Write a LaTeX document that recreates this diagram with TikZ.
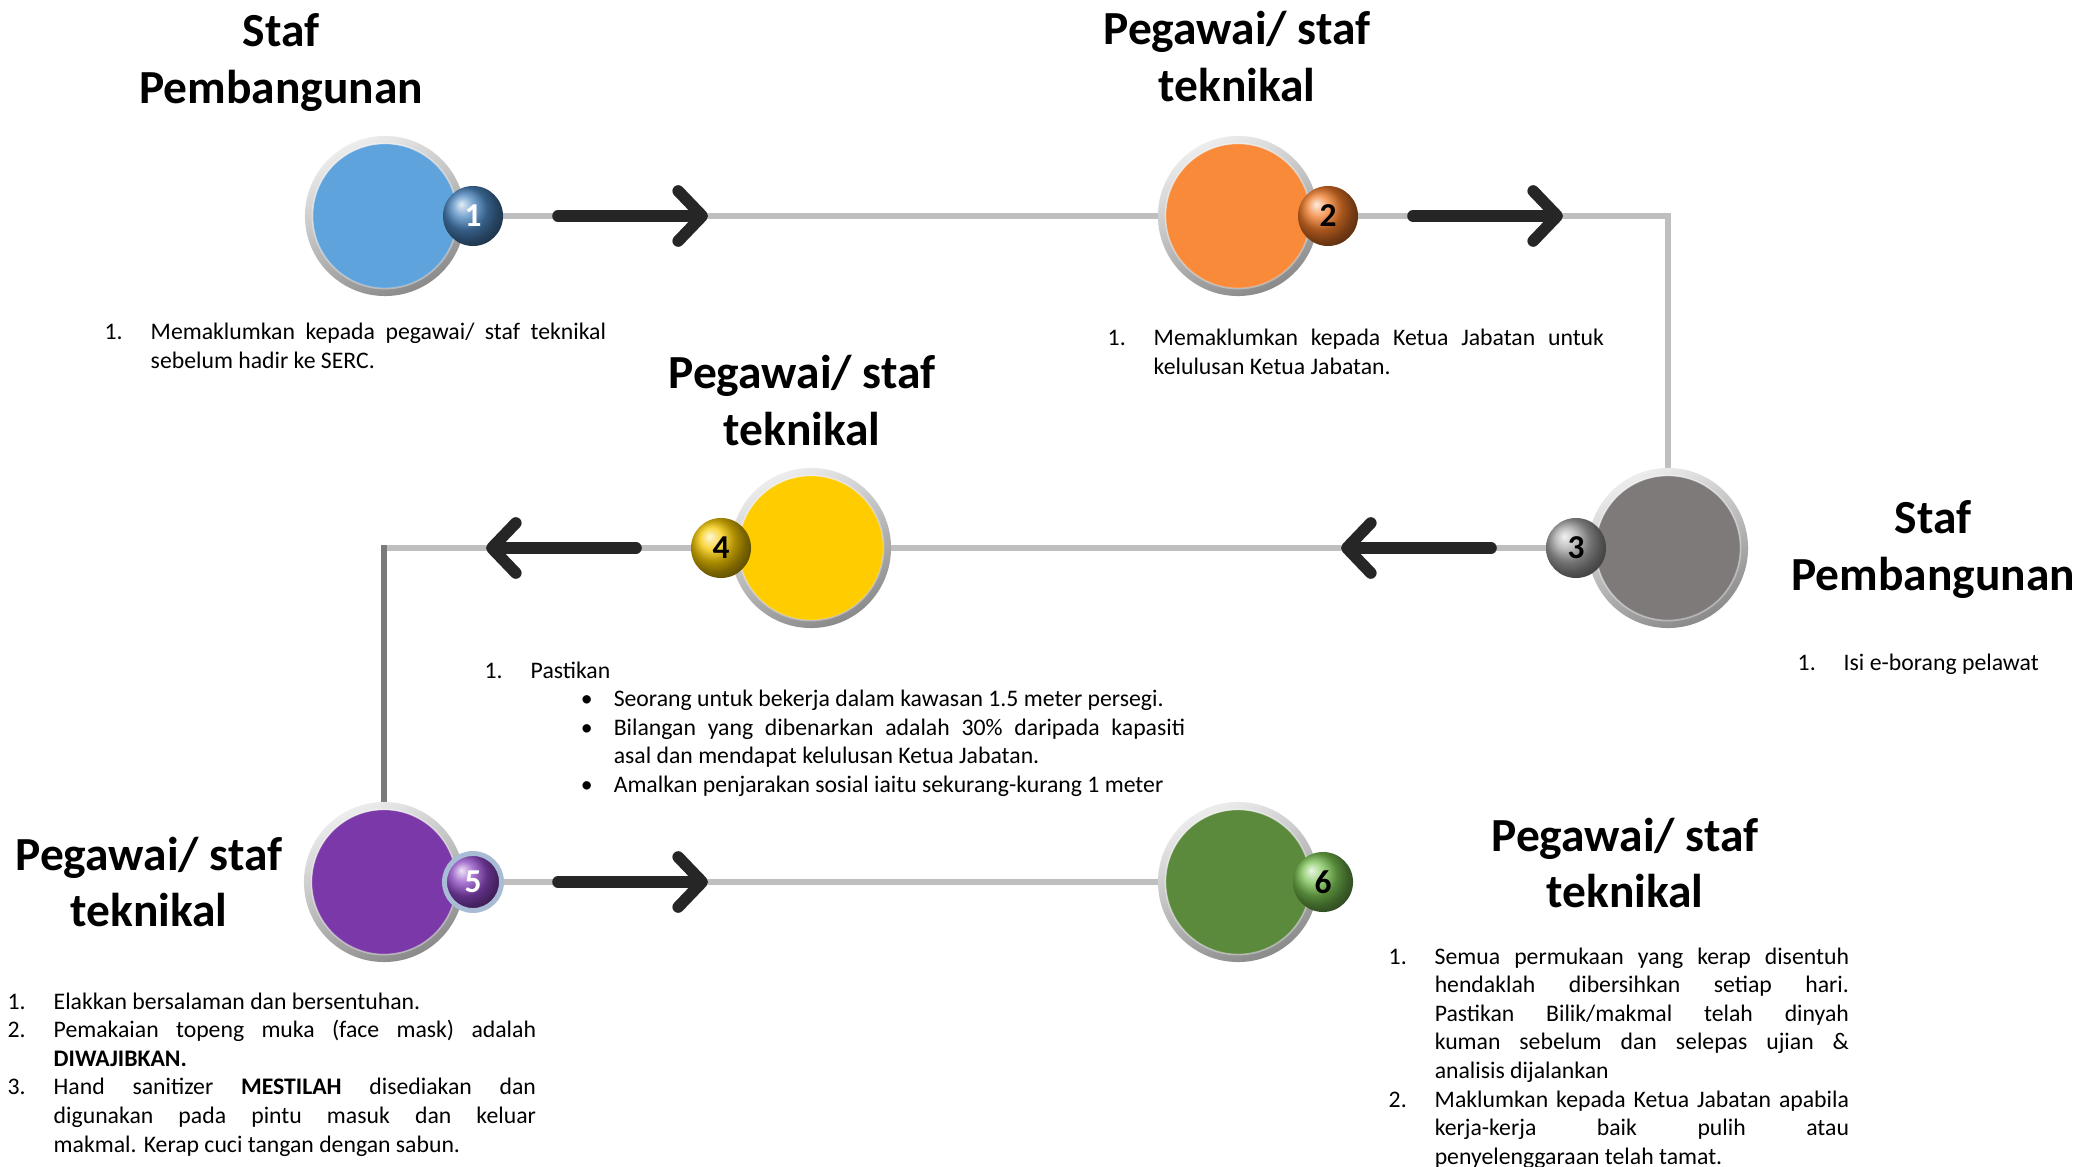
\documentclass[tikz,border=0pt]{standalone}
\usepackage{fontspec}
\setmainfont{Carlito}
\usetikzlibrary{arrows.meta, calc}

\definecolor{disc1}{HTML}{5FA3DD}
\definecolor{disc2}{HTML}{F98A3A}
\definecolor{disc3}{HTML}{7F7A7A}
\definecolor{disc4}{HTML}{FFCC00}
\definecolor{disc5}{HTML}{7A38A8}
\definecolor{disc6}{HTML}{5B8A3C}
\definecolor{badge1}{HTML}{4B86C0}
\definecolor{badge2}{HTML}{F07A28}
\definecolor{badge3}{HTML}{A6A6A6}
\definecolor{badge4}{HTML}{F5C800}
\definecolor{badge5}{HTML}{8A45BF}
\definecolor{badge6}{HTML}{78C050}
\definecolor{rim5}{HTML}{A9BCD6}
\definecolor{ringlight}{HTML}{EDEDED}
\definecolor{ringdark}{HTML}{8A8A8A}
\definecolor{linkgray}{HTML}{BFBFBF}
\definecolor{linkdark}{HTML}{7A7A7A}
\definecolor{arrowblack}{HTML}{262626}

\newcommand\headfont{\fontsize{13.5}{16.2}\selectfont\bfseries}
\newcommand\bodyfont{\fontsize{6.75}{8.14}\selectfont}
\newcommand\badgefont{\fontsize{9.5}{10}\selectfont\bfseries}

% hanging list items
\newlength\numind
\setlength\numind{0.46cm}
\newcommand\numitem[2]{\noindent\hangindent=\numind\hangafter=1\makebox[\numind][l]{#1}#2\par}
\newcommand\bulitem[1]{\noindent\hangindent=1.29cm\hangafter=1\hspace*{0.96cm}\makebox[0.33cm][l]{\textbullet}#1\par}

\tolerance=9999
\emergencystretch=1em
\hbadness=10000

\pgfdeclarelayer{background}
\pgfsetlayers{background,main}

\begin{document}
\begin{tikzpicture}[
    x=0.01cm, y=-0.01cm,
    bigdisc/.style={circle, minimum size=1.6cm, inner sep=0pt,
        top color=ringlight, bottom color=ringdark, shading angle=25,
        path picture={
            \fill[#1] (path picture bounding box.center) circle (0.72cm);
            \draw[white, opacity=0.35, line width=0.5pt] (path picture bounding box.center) circle (0.725cm);
        }},
    badge/.style={circle, minimum size=0.6cm, inner sep=0pt, ball color=#1, font=\badgefont},
    link/.style={draw=linkgray, line width=1.7pt, line cap=rect},
    linkdk/.style={draw=linkdark, line width=1.7pt, line cap=rect},
    flow/.style={draw=arrowblack, line width=3.3pt, line cap=round,
        -{Straight Barb[length=0.24cm, width=0.5cm, round]}},
    head/.style={font=\headfont, align=center},
    notes/.style={anchor=base west, font=\bodyfont, align=justify, inner sep=0pt}
]

    \useasboundingbox (0,0) rectangle (2082,1167);

    % Discs with numbered badges
    \foreach \i/\cx/\cy/\bx/\num in {1/385/216/473/white, 2/1238/216/1328/black,
                                     3/1668/548/1576/black, 4/811/548/721/black,
                                     5/384/882/473/white, 6/1238/882/1323/black} {
        \node[bigdisc=disc\i] (c\i) at (\cx,\cy) {};
        \node[badge=badge\i, text=\num] (b\i) at (\bx,\cy) {\i};
    }
    \draw[rim5, line width=1.4pt] (b5.center) circle (0.285cm);

    % Links between the steps
    \begin{pgfonlayer}{background}
        \fill[white] (0,0) rectangle (2082,1167);
        \draw[link] (b1) -- (c2);
        \draw[link] (b2) -| (c3);
        \draw[link] (b3) -- (c4);
        \draw[link] (b4) -- (b4 -| c5);
        \draw[linkdk] (b4 -| c5) -- (c5);
        \draw[link] (b5) -- (c6);
    \end{pgfonlayer}

    % Direction arrows
    \foreach \b/\d in {b1/1, b2/1, b3/-1, b4/-1, b5/1}
        \draw[flow] ($(\b)+(\d*85,0)$) -- ++(\d*150,0);

    % Titles
    \node[head] (t1) at (281,63) {Staf\\Pembangunan};
    \node[head] (t2) at (1237,57) {Pegawai/ staf\\teknikal};
    \node[head] (t3) at (802,401) {Pegawai/ staf\\teknikal};
    \node[head] (t4) at (1933,550) {Staf\\Pembangunan};
    \node[head] (t5) at (149,882) {Pegawai/ staf\\teknikal};
    \node[head] (t6) at (1625,863) {Pegawai/ staf\\teknikal};

    % Notes
    \node[notes, text width=5.01cm] (n1) at (104,340) {%
        \numitem{1.}{Memaklumkan kepada pegawai/ staf teknikal\linebreak sebelum hadir ke SERC.}};
    \node[notes, text width=4.96cm] (n2) at (1107,346) {%
        \numitem{1.}{Memaklumkan kepada Ketua Jabatan untuk\linebreak kelulusan Ketua Jabatan.}};
    \node[notes, text width=3cm] (n3) at (1797,670) {%
        \numitem{1.}{Isi e-borang pelawat}};
    \node[notes, text width=7cm] (n4) at (484,678) {%
        \numitem{1.}{Pastikan}
        \bulitem{Seorang untuk bekerja dalam kawasan 1.5 meter persegi.}
        \bulitem{Bilangan yang dibenarkan adalah 30\% daripada kapasiti\linebreak asal dan mendapat kelulusan Ketua Jabatan.}
        \bulitem{Amalkan penjarakan sosial iaitu sekurang-kurang 1 meter}};
    \node[notes, text width=5.28cm] (n5) at (7,1009) {%
        \numitem{1.}{Elakkan bersalaman dan bersentuhan.}
        \numitem{2.}{Pemakaian topeng muka (face mask) adalah\linebreak \textbf{DIWAJIBKAN.}}
        \numitem{3.}{Hand sanitizer \textbf{MESTILAH} disediakan dan\linebreak digunakan pada pintu masuk dan keluar\linebreak makmal. Kerap cuci tangan dengan sabun.}};
    \node[notes, text width=4.6cm] (n6) at (1388,964) {%
        \numitem{1.}{Semua permukaan yang kerap disentuh\linebreak hendaklah dibersihkan setiap hari.\linebreak Pastikan Bilik/makmal telah dinyah\linebreak kuman sebelum dan selepas ujian \&\linebreak analisis dijalankan}
        \numitem{2.}{Maklumkan kepada Ketua Jabatan apabila\linebreak kerja-kerja baik pulih atau\linebreak penyelenggaraan telah tamat.}};

\end{tikzpicture}
\end{document}
